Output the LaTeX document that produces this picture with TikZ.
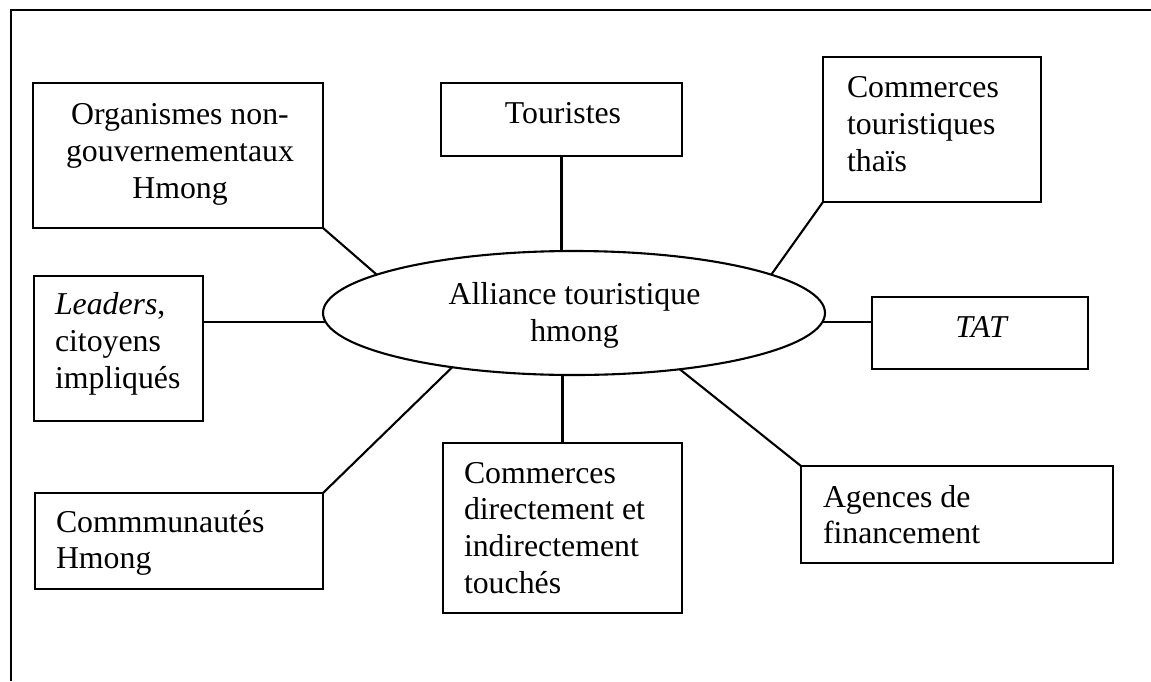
\documentclass[tikz,border=0pt]{standalone}
\usepackage{fontspec}
\setmainfont{Liberation Serif}
\usetikzlibrary{shapes.geometric}

\tikzset{
  box/.style={draw, rectangle, line width=2.1pt, inner sep=0pt, outer sep=0pt},
  hub/.style={draw, ellipse, line width=2.1pt, inner sep=0pt, outer sep=0pt,
              minimum width=502pt, minimum height=124pt},
  txt/.style={inner sep=0pt, outer sep=0pt,
              font=\fontsize{31.8}{36.7}\selectfont},
  ctxt/.style={txt, anchor=north, align=center},
  ltxt/.style={txt, anchor=north west, align=left},
  link/.style={line width=2.1pt},
  frame/.style={line width=2.3pt}
}

\begin{document}
\begin{tikzpicture}[x=1pt, y=-1pt]
  \useasboundingbox (0,0) rectangle (1151,681);

  % open frame: top and left edges only
  \draw[frame] (11,681) -- (11,10) -- (1151,10);

  % central ellipse
  \node[hub] (ell) at (574,313) {};
  \node[ctxt] (elltxt) at (574.5,279.3) {\strut Alliance touristique\\hmong};

  % surrounding boxes
  \node[box, minimum width=290pt, minimum height=145pt] (ong)  at (178,155.5) {};
  \node[box, minimum width=241pt, minimum height=73pt]  (tour) at (561.5,119.5) {};
  \node[box, minimum width=218pt, minimum height=145pt] (thai) at (932,129.5) {};
  \node[box, minimum width=169pt, minimum height=145pt] (lead) at (118.5,348.5) {};
  \node[box, minimum width=288pt, minimum height=96pt]  (comm) at (179,541) {};
  \node[box, minimum width=216pt, minimum height=72pt]  (tat)  at (980,333) {};
  \node[box, minimum width=312pt, minimum height=97pt]  (agen) at (957,514.5) {};
  \node[box, minimum width=239pt, minimum height=170pt] (dir)  at (562.5,528) {};

  % box texts
  \node[ctxt] (ongtxt)  at (180,99.3)   {\strut Organismes non-\\gouvernementaux\\Hmong};
  \node[ctxt] (tourtxt) at (563,98.3)   {\strut Touristes};
  \node[ltxt] (thaitxt) at (847,72.3)   {\strut Commerces\\touristiques\\thaïs};
  \node[ltxt] (leadtxt) at (55,289.3)   {\strut\textit{Leaders},\\citoyens\\impliqués};
  \node[ltxt] (commtxt) at (56,506.3)   {\strut Commmunautés\\Hmong};
  \node[ctxt] (tattxt)  at (982,312.3)  {\strut\textit{TAT}};
  \node[ltxt] (agentxt) at (823,481.3)  {\strut Agences de\\financement};
  \node[ltxt] (dirtxt)  at (464,457.3)  {\strut Commerces\\directement et\\indirectement\\touchés};

  % connectors
  \draw[link] (ong.south east) -- (ell.169);
  \draw[link] (tour.south) -- (tour.south |- ell.north);
  \draw[link] (thai.south west) -- (ell.11);
  \draw[link] (ell.182) -- (lead.east |- ell.182);
  \draw[link] (ell.-2) -- (tat.west |- ell.-2);
  \draw[link] (comm.north east) -- (ell.204);
  \draw[link] (dir.north) -- (dir.north |- ell.south);
  \draw[link] (agen.north west) -- (ell.-28);
\end{tikzpicture}
\end{document}
